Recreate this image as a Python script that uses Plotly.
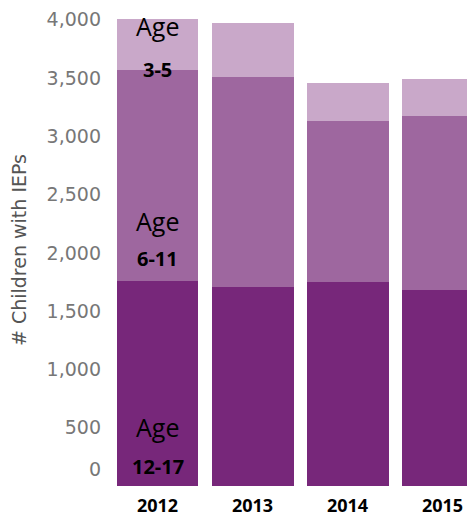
import plotly.graph_objects as go

years = ["2012", "2013", "2014", "2015"]
age_12_17 = [1760, 1710, 1750, 1685]
age_6_11 = [1810, 1800, 1385, 1490]
age_3_5 = [440, 465, 325, 320]

series = [
    ("Age 12-17", age_12_17, "#77277A"),
    ("Age 6-11", age_6_11, "#9E679F"),
    ("Age 3-5", age_3_5, "#C9A8C9"),
]

tick_vals = [146, 500, 1000, 1500, 2000, 2500, 3000, 3500, 4000]
tick_text = ["0", "500", "1,000", "1,500", "2,000", "2,500", "3,000", "3,500", "4,000"]

# segment labels on the first year's bar: (text, y value, bold)
labels = [
    ("Age", 3945, False), ("3-5", 3571, True),
    ("Age", 2275, False), ("6-11", 1951, True),
    ("Age", 508, False), ("12-17", 166, True),
]

FONT = "Open Sans"
AXFONT = "DejaVu Sans"

fig = go.Figure()
for name, vals, color in series:
    fig.add_trace(go.Bar(x=years, y=vals, name=name,
                         marker=dict(color=color, line=dict(width=0)),
                         hoverinfo="x+y+name"))

label_x = years.index("2012")
for text, yv, bold in labels:
    fig.add_annotation(x=label_x, y=yv, xref="x", yref="y",
                       text=f"<b>{text}</b>" if bold else text, showarrow=False,
                       font=dict(family=FONT, size=20 if bold else 25, color="#000000"),
                       xanchor="center", yanchor="middle", borderpad=0)

fig.update_layout(
    width=467, height=509,
    margin=dict(l=102, r=0, t=6, b=31),
    barmode="stack", bargap=0.137,
    showlegend=False,
    plot_bgcolor="white", paper_bgcolor="white",
    font=dict(family=FONT),
)
fig.update_xaxes(
    type="category", range=[-0.5, 3.342],
    showgrid=False, zeroline=False, showline=False,
    tickfont=dict(family=FONT, size=18, color="#000000", weight="bold"),
    ticklabelstandoff=7,
)
fig.update_yaxes(
    range=[0, 4049], tickvals=tick_vals, ticktext=tick_text,
    showgrid=False, zeroline=False, showline=False,
    tickfont=dict(family=AXFONT, size=19, color="#777777"),
    ticklabelstandoff=8,
    title=dict(text="# Children with IEPs", font=dict(family=AXFONT, size=19, color="#555555"), standoff=15),
)

fig.write_html("out.html")
